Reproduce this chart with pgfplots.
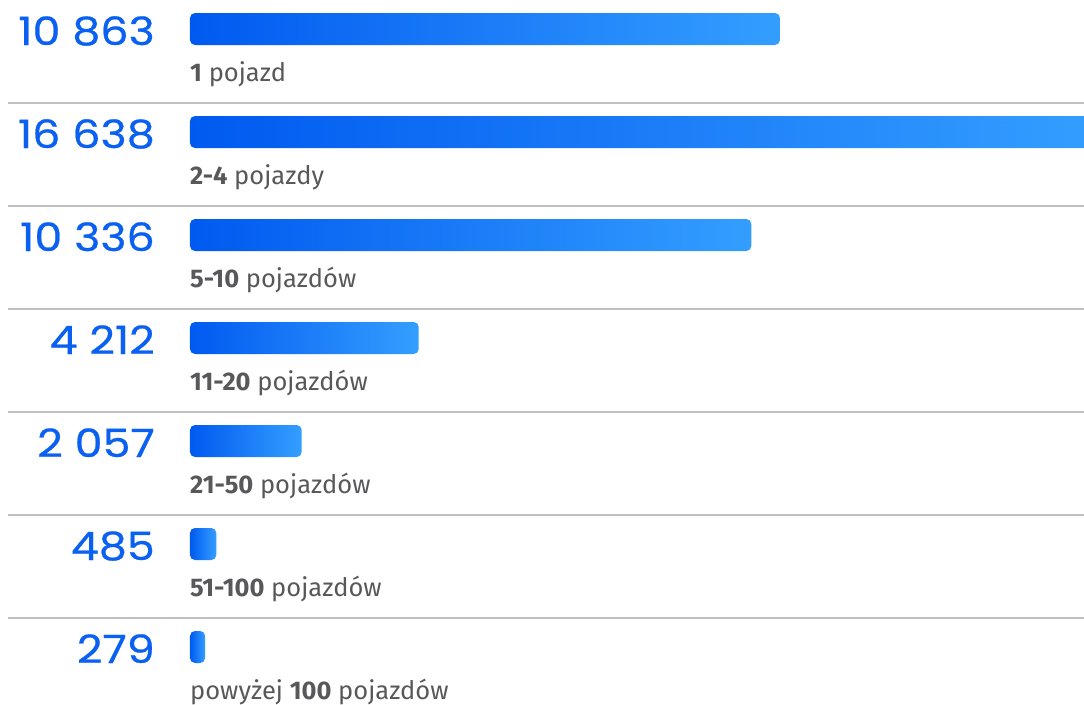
\documentclass[border=0pt]{standalone}
\usepackage{fontspec}
\setmainfont{Fira Sans}
\newfontfamily\numfont{Poppins}[FakeStretch=1.14, FakeBold=0.6]
\usepackage{pgfplots}
\usepackage{pgfplotstable}
\pgfplotsset{compat=1.18}
\definecolor{barL}{HTML}{005AF0}
\definecolor{barR}{HTML}{349EFF}
\definecolor{numblue}{HTML}{0A60F0}
\definecolor{labgray}{HTML}{58585A}
\definecolor{sepgray}{HTML}{C0C0C0}

\pgfplotstableread[col sep=comma]{
y,value,num,label
0,10863,10 863,\textbf{1} pojazd
1,16638,16 638,\textbf{2-4} pojazdy
2,10336,10 336,\textbf{5-10} pojazdów
3,4212,4 212,\textbf{11-20} pojazdów
4,2057,2 057,\textbf{21-50} pojazdów
5,485,485,\textbf{51-100} pojazdów
6,279,279,powyżej \textbf{100} pojazdów
}\data

\begin{document}
\begin{tikzpicture}
\begin{axis}[
  at={(0,0)}, anchor=south west,
  width=1084pt, height=704pt, scale only axis,
  xmin=-3498, xmax=16461,
  ymin=-0.2816, ymax=6.5534, y dir=reverse,
  hide axis, clip=false,
]
\draw[sepgray, line width=1.3pt] (axis cs:-3351,0.7184) -- (axis cs:16461,0.7184);
\draw[sepgray, line width=1.3pt] (axis cs:-3351,1.7184) -- (axis cs:16461,1.7184);
\draw[sepgray, line width=1.3pt] (axis cs:-3351,2.7184) -- (axis cs:16461,2.7184);
\draw[sepgray, line width=1.3pt] (axis cs:-3351,3.7184) -- (axis cs:16461,3.7184);
\draw[sepgray, line width=1.3pt] (axis cs:-3351,4.7184) -- (axis cs:16461,4.7184);
\draw[sepgray, line width=1.3pt] (axis cs:-3351,5.7184) -- (axis cs:16461,5.7184);

\pgfplotsinvokeforeach{0,...,6}{
\addplot[xbar, bar width=32pt, draw=none, rounded corners=5pt,
  left color=barL, right color=barR,
  restrict expr to domain={\coordindex}{#1:#1}] table[x=value, y=y] {\data};
}

\addplot[draw=none, mark=none, nodes near coords, point meta=explicit symbolic,
  every node near coord/.append style={anchor=base east, xshift=-35pt, yshift=-16pt,
    text=numblue, font=\numfont\fontsize{39}{39}\selectfont, inner sep=0pt}]
  table[x expr=0, y=y, meta=num] {\data};

\addplot[draw=none, mark=none, nodes near coords, point meta=explicit symbolic,
  every node near coord/.append style={anchor=base west, xshift=0pt, yshift=-52pt,
    text=labgray, font=\fontsize{25.5}{25.5}\selectfont, inner sep=0pt}]
  table[x expr=0, y=y, meta=label] {\data};
\end{axis}
\pgfresetboundingbox
\path (0,0) rectangle (1084pt,704pt);
\end{tikzpicture}
\end{document}
